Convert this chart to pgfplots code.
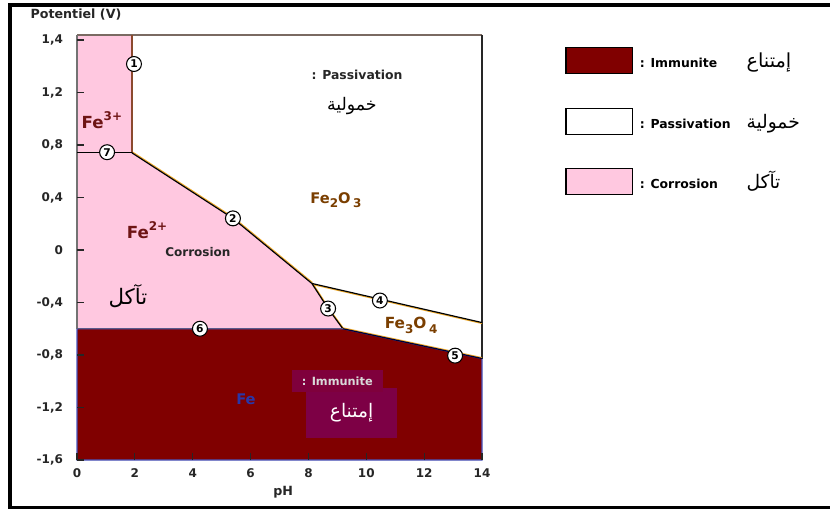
\documentclass[border=0pt]{standalone}
\usepackage{pgfplots}
\pgfplotsset{compat=1.18}
\usepackage{fontspec}
\setmainfont{DejaVu Sans}
\newfontfamily\arabicfont[Script=Arabic]{DejaVu Sans}
\TeXXeTstate=1
\definecolor{fepink}{HTML}{FFC8E0}
\definecolor{ferred}{HTML}{800000}
\definecolor{boxpurple}{HTML}{7D0045}
\definecolor{boxpurpleA}{HTML}{7F003C}
\definecolor{oxbrown}{HTML}{7A3E00}
\definecolor{feblue}{HTML}{2A36A8}
\definecolor{lbl}{HTML}{6E1414}
\definecolor{topline}{HTML}{7A6A62}
\definecolor{line1}{HTML}{8B4A2E}
\definecolor{line6}{HTML}{5A5A8C}
\definecolor{feedge}{HTML}{4656C0}
\definecolor{fringe}{HTML}{F0AA28}
\pgfplotsset{boxlegend/.style={legend image code/.code={\draw[##1,line width=0.9pt] (0pt,-7pt) rectangle (50pt,12.5pt);}}}
\newcommand{\ar}[1]{{\arabicfont\mdseries\beginR #1\endR}}
\begin{document}
\begin{tikzpicture}
\useasboundingbox (0,0) rectangle (622.5pt,383.25pt);
\draw[line width=2.4pt] (640pt,379.5pt) -- (7.5pt,379.5pt) -- (7.5pt,2.6pt) -- (640pt,2.6pt);
\begin{axis}[
  at={(57.75pt,38.25pt)}, anchor=south west,
  scale only axis, width=303.75pt, height=318.75pt,
  xmin=0, xmax=14, ymin=-1.6, ymax=1.638,
  clip=false, axis on top,
  axis line style={draw=none},
  xtick={0,2,...,14},
  ytick={-1.6,-1.2,-0.8,-0.4,0,0.4,0.8,1.2,1.6},
  yticklabels={{-1,6},{-1,2},{-0,8},{-0,4},{0},{0,4},{0,8},{1,2},{1,4}},
  xtick pos=bottom, ytick pos=left, tick align=inside,
  major tick length=5.5pt,
  tick style={black!85, line width=0.9pt},
  /pgf/number format/assume math mode=true,
  tick label style={font=\fontsize{9}{10}\selectfont\bfseries, text=black!85},
  yticklabel style={xshift=-7pt},
  xticklabel style={yshift=-3pt},
  xlabel={pH},
  xlabel style={at={(axis description cs:0.509,-0.075)}, anchor=center, font=\fontsize{9.5}{11}\selectfont\bfseries, text=black!85},
  ylabel={Potentiel (V)},
  ylabel style={rotate=-90, at={(axis description cs:-0.0025,1.047)}, anchor=center, font=\fontsize{9.5}{11}\selectfont\bfseries, text=black!85},
  legend style={at={(1.205,0.972)}, anchor=north west, draw=none, fill=none,
    inner sep=0pt, row sep=25pt, legend cell align=left,
    font=\fontsize{9.3}{11}\selectfont\bfseries,
    nodes={text height=7pt, text depth=2pt, inner sep=1pt},
    /tikz/every odd column/.append style={column sep=4pt}},
]
% legend (first, so entries match these images)
\addlegendimage{boxlegend, fill=ferred, draw=black}
\addlegendentry{\makebox[80pt][l]{: Immunite}{\fontsize{14.5}{14}\selectfont\ar{إمتناع}}}
\addlegendimage{boxlegend, fill=white, draw=black}
\addlegendentry{\makebox[80pt][l]{: Passivation}{\fontsize{14}{14}\selectfont\ar{خمولية}}}
\addlegendimage{boxlegend, fill=fepink, draw=black}
\addlegendentry{\makebox[80pt][l]{: Corrosion}{\fontsize{14}{14}\selectfont\ar{تآكل}}}
% regions
\addplot[forget plot, fill=fepink, draw=none] coordinates {(0,0.74) (1.9,0.74) (1.9,1.638) (0,1.638)} -- cycle;
\addplot[forget plot, fill=fepink, draw=none] coordinates {(0,0.74) (1.9,0.74) (5.39,0.241) (8.12,-0.255) (8.68,-0.446) (9.19,-0.6) (0,-0.6)} -- cycle;
\addplot[forget plot, fill=ferred, draw=feedge, line width=0.9pt] coordinates {(0,-0.6) (9.19,-0.6) (14,-0.827) (14,-1.6) (0,-1.6)} -- cycle;
% frame lines
\addplot[forget plot, topline, line width=1pt] coordinates {(0,1.638) (14,1.638)};
\addplot[forget plot, black!55, line width=0.8pt] coordinates {(0,1.638) (0,-0.6)};
\addplot[forget plot, black!85, line width=1pt] coordinates {(14,1.638) (14,-0.827)};
% orange fringes of the boundaries
\addplot[forget plot, fringe, line width=0.8pt, yshift=0.7pt, xshift=0.4pt] coordinates {(1.9,0.74) (5.39,0.241) (8.12,-0.255)};
\addplot[forget plot, fringe, line width=0.8pt, xshift=0.7pt] coordinates {(8.12,-0.255) (8.68,-0.446) (9.19,-0.6)};
\addplot[forget plot, fringe, line width=0.8pt, yshift=-0.7pt] coordinates {(8.12,-0.255) (14,-0.553)};
\addplot[forget plot, fringe, line width=0.8pt, yshift=0.7pt] coordinates {(9.19,-0.6) (14,-0.827)};
% boundaries
\addplot[forget plot, line1, line width=1pt] coordinates {(1.9,0.74) (1.9,1.638)};
\addplot[forget plot, black, line width=0.9pt] coordinates {(0,0.74) (1.9,0.74)};
\addplot[forget plot, black, line width=0.9pt] coordinates {(1.9,0.74) (5.39,0.241) (8.12,-0.255)};
\addplot[forget plot, black, line width=0.9pt] coordinates {(8.12,-0.255) (8.68,-0.446) (9.19,-0.6)};
\addplot[forget plot, black, line width=0.9pt] coordinates {(8.12,-0.255) (14,-0.553)};
\addplot[forget plot, black!80!blue, line width=0.9pt] coordinates {(9.19,-0.6) (14,-0.827)};
\addplot[forget plot, line6, line width=1pt] coordinates {(0,-0.6) (9.19,-0.6)};
% numbered circles
\addplot[forget plot, only marks, mark=*, mark size=5.6pt,
  mark options={fill=white, draw=black, line width=0.8pt},
  point meta=explicit symbolic, nodes near coords, nodes near coords align=center,
  every node near coord/.append style={anchor=center, inner sep=0pt, font=\fontsize{8}{9}\selectfont\bfseries, text=black}]
  table[meta=lab] {
x y lab
1.97 1.417 1
5.39 0.241 2
8.68 -0.446 3
10.47 -0.385 4
13.07 -0.805 5
4.25 -0.6 6
1.04 0.745 7
};
% labels
\node[text=lbl, font=\fontsize{12.5}{14}\selectfont\bfseries] at (axis cs:0.86,0.99) {Fe\raisebox{0.5em}{\fontsize{9}{10}\selectfont 3+}};
\node[text=lbl, font=\fontsize{12.5}{14}\selectfont\bfseries] at (axis cs:2.42,0.15) {Fe\raisebox{0.5em}{\fontsize{9}{10}\selectfont 2+}};
\node[font=\fontsize{9}{10}\selectfont\bfseries, text=black!85] at (axis cs:4.18,-0.018) {Corrosion};
\node[font=\fontsize{16}{16}\selectfont] at (axis cs:1.76,-0.35) {\ar{تآكل}};
\node[font=\fontsize{9.3}{11}\selectfont\bfseries, text=black!85] at (axis cs:9.68,1.333) {: Passivation};
\node[font=\fontsize{13}{14}\selectfont] at (axis cs:9.5,1.096) {\ar{خمولية}};
\node[text=oxbrown, font=\fontsize{11}{12}\selectfont\bfseries] at (axis cs:8.95,0.379) {Fe\raisebox{-0.3em}{\fontsize{9}{10}\selectfont 2}O\,\raisebox{-0.3em}{\fontsize{9}{10}\selectfont 3}};
\node[text=oxbrown, font=\fontsize{11.5}{12}\selectfont\bfseries] at (axis cs:11.55,-0.576) {Fe\raisebox{-0.3em}{\fontsize{9}{10}\selectfont 3}O\,\raisebox{-0.3em}{\fontsize{9}{10}\selectfont 4}};
\node[text=feblue, font=\fontsize{11}{12}\selectfont\bfseries] at (axis cs:5.84,-1.14) {Fe};
\node[fill=boxpurple, minimum width=68pt, minimum height=37.5pt, inner sep=0pt, text=white, font=\fontsize{14}{14}\selectfont] at (axis cs:9.49,-1.24) {\raisebox{-6pt}{\ar{إمتناع}}};
\node[fill=boxpurpleA, minimum width=68pt, minimum height=17pt, inner sep=0pt, text=white!85!black, font=\fontsize{8.5}{10}\selectfont\bfseries] at (axis cs:9.0,-0.999) {: Immunite\hspace{6pt}};
\end{axis}
\end{tikzpicture}
\end{document}
